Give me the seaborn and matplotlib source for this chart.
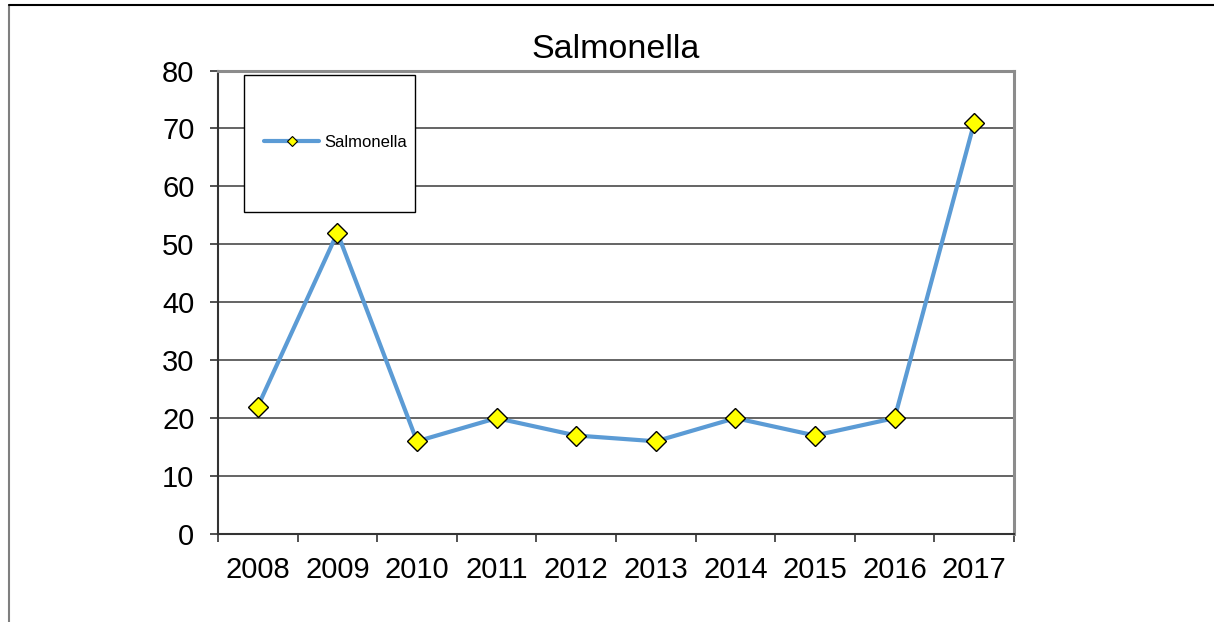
import numpy as np
import pandas as pd
import seaborn as sns
import matplotlib.pyplot as plt
from matplotlib.lines import Line2D
from matplotlib.patches import Rectangle

# Data
years = ['2008', '2009', '2010', '2011', '2012', '2013', '2014', '2015', '2016', '2017']
cases = [22, 52, 16, 20, 17, 16, 20, 17, 20, 71]
series_name = 'Salmonella'
y_ticks = [0, 10, 20, 30, 40, 50, 60, 70, 80]

df = pd.DataFrame({'year': years, 'cases': cases})

sns.set_style('white')
plt.rcParams['font.family'] = ['Liberation Sans', 'DejaVu Sans']
plt.rcParams['text.color'] = 'black'

W, H = 1214, 622
fig = plt.figure(figsize=(W / 100, H / 100), dpi=100)

# axes placed in pixel coords of the reference
left, right, top, bottom = 218, 1014, 70.5, 534
ax = fig.add_axes([left / W, 1 - bottom / H, (right - left) / W, (bottom - top) / H])

line_color = '#5B9BD5'
sns.lineplot(data=df, x='year', y='cases', ax=ax, color=line_color, linewidth=3.0,
             marker='D', markersize=10.3, markerfacecolor='#FFFF00',
             markeredgecolor='black', markeredgewidth=1.0, legend=False, zorder=3)

ax.set_xlim(-0.5, len(years) - 0.5)
ax.set_ylim(0, 80)
ax.set_yticks(y_ticks)
ax.set_xticks(range(len(years)))
ax.set_xticklabels(years)
ax.set_xticks(np.arange(len(years) + 1) - 0.5, minor=True)
ax.set_xlabel('')
ax.set_ylabel('')

ax.tick_params(axis='x', which='major', length=0, pad=16, labelsize=21, labelcolor='black')
ax.tick_params(axis='x', which='minor', length=6, width=1.2, color='#333333', direction='out', bottom=True)
ax.tick_params(axis='y', length=6, width=1.2, color='#333333', direction='out', left=True,
               pad=11, labelsize=21, labelcolor='black')

ax.grid(axis='y', color='#3a3a3a', linewidth=1.1, zorder=0)
ax.grid(axis='x', visible=False)
ax.set_axisbelow(True)

for s in ['left', 'bottom']:
    ax.spines[s].set_color('#333333')
    ax.spines[s].set_linewidth(1.5)
for s in ['top', 'right']:
    ax.spines[s].set_color('#8c8c8c')
    ax.spines[s].set_linewidth(2.2)

ax.set_title(series_name, fontsize=24.5, pad=9, color='black')

# legend box
ax.add_patch(Rectangle((0.0327, 0.694), 0.2148, 0.297, transform=ax.transAxes,
                       facecolor='white', edgecolor='black', linewidth=1.0, zorder=4))
handle = Line2D([], [], color=line_color, linewidth=3, marker='D', markersize=5,
                markerfacecolor='#FFFF00', markeredgecolor='black', markeredgewidth=0.8)
leg = ax.legend([handle], [series_name], loc='center left', bbox_to_anchor=(0.058, 0.845),
                frameon=False, fontsize=12, handlelength=3.3, handletextpad=0.3,
                borderpad=0, borderaxespad=0)
leg.set_zorder(5)
for t in leg.get_texts():
    t.set_color('black')

# outer frame of the cropped figure
fig.add_artist(Line2D([9 / W, 9 / W], [0, 1 - 5 / H], transform=fig.transFigure,
                      color='#7f7f7f', linewidth=1.5))
fig.add_artist(Line2D([9 / W, 1], [1 - 5 / H, 1 - 5 / H], transform=fig.transFigure,
                      color='black', linewidth=1.5))

fig.savefig('out.png', dpi=100)
